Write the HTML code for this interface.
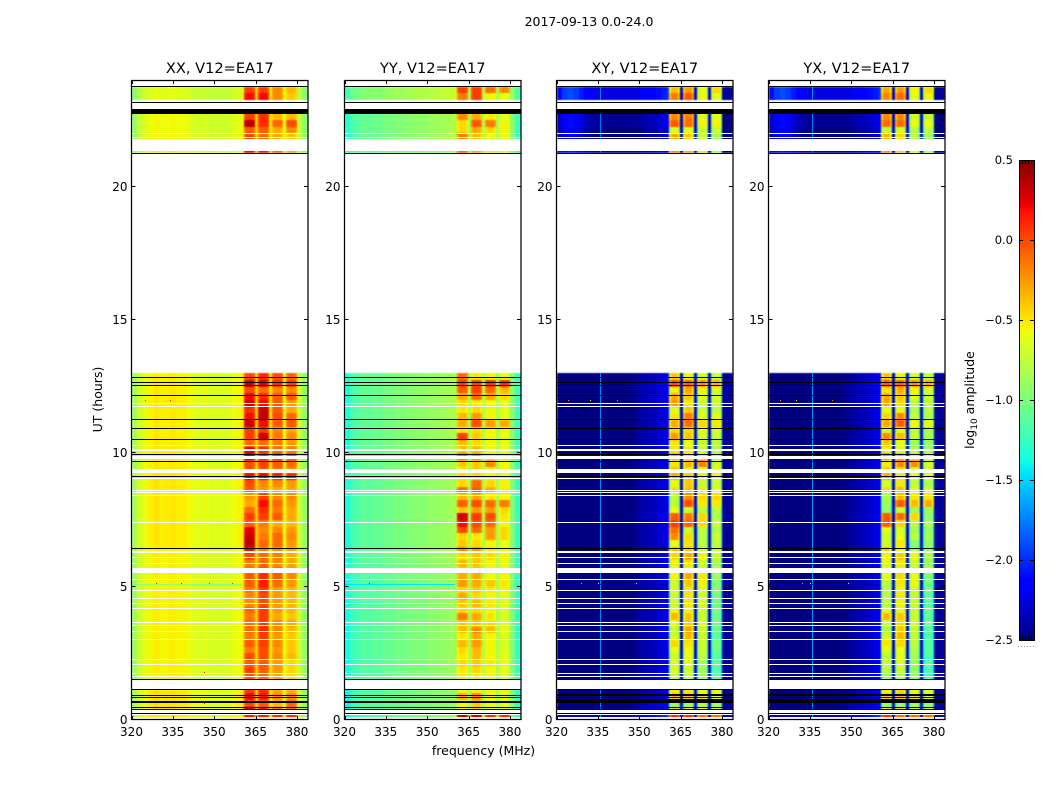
<!DOCTYPE html>
<html>
<head>
<meta charset="utf-8">
<title>2017-09-13 0.0-24.0</title>
<style>
html,body{margin:0;padding:0;background:#fff;width:1050px;height:800px;overflow:hidden}
svg{display:block}
text{font-family:"DejaVu Sans","Liberation Sans",sans-serif;fill:#000}
</style>
</head>
<body>
<svg id="fig" xmlns="http://www.w3.org/2000/svg" width="1050" height="800" viewBox="0 0 1050 800">
  <defs>
    <filter id="soft" filterUnits="userSpaceOnUse" x="100" y="60" width="880" height="680" color-interpolation-filters="sRGB">
      <feGaussianBlur stdDeviation="0.7 0.55"/>
    </filter>
  </defs>
  <text x="589" y="26" font-size="12.5" text-anchor="middle">2017-09-13 0.0-24.0</text>
  <text x="483.5" y="755" font-size="12.5" text-anchor="middle">frequency (MHz)</text>
  <text transform="translate(102,399.5) rotate(-90)" font-size="12.5" text-anchor="middle">UT (hours)</text>
  <text transform="translate(974,400) rotate(-90)" font-size="12.5" text-anchor="middle">log<tspan font-size="9" dy="3">10</tspan><tspan dy="-3"> amplitude</tspan></text>
  <g id="panels"></g>
  <g id="cbar"></g>
</svg>
<script>
const panelTitles = ["XX, V12=EA17", "YY, V12=EA17", "XY, V12=EA17", "YX, V12=EA17"];
const panelKeys = ["xx", "yy", "xy", "yx"];
const xTicks = [320, 335, 350, 365, 380];
const yTicks = [0, 5, 10, 15, 20];
const cbarTicks = [0.5, 0, -0.5, -1, -1.5, -2, -2.5];

// start hour of each 0.25 h time row, top to bottom
const rowHours = [23.5,23.25,22.5,22.25,22,21.75,21.25,
 12.75,12.5,12.25,12,11.75,11.5,11.25,11,10.75,10.5,10.25,10,9.75,9.5,9.25,9,8.75,8.5,8.25,8,7.75,7.5,7.25,7,6.75,6.5,6.25,6,5.75,5.5,5.25,5,4.75,4.5,4.25,4,3.75,3.5,3.25,3,2.75,2.5,2.25,2,1.75,1.5,
 1,0.75,0.5,0.25,0];

// low-frequency channel edges (MHz) and per-polarisation log10 amplitude spectra
const lowEdges = [320,322,324,326,328,330,332,334,336,338,340,342,344,346,348,350,352,354,356,358,360,360.8];
const lowXX = [-.88,-.7,-.62,-.56,-.52,-.56,-.55,-.53,-.56,-.55,-.6,-.64,-.66,-.64,-.68,-.66,-.68,-.66,-.62,-.58,-.53];
const lowYY = [-1.35,-1.2,-1.15,-1.1,-1.12,-1.08,-1.1,-1.04,-1.05,-1.0,-1.02,-.98,-.97,-.95,-.96,-.92,-.92,-.9,-.88,-.85,-.83];
const lowXY = [-2.6,-2.6,-2.6,-2.6,-2.6,-2.6,-2.6,-2.6,-2.6,-2.6,-2.6,-2.6,-2.6,-2.55,-2.5,-2.45,-2.42,-2.4,-2.35,-2.3,-2.2];
const lowYX = [-2.6,-2.6,-2.6,-2.6,-2.6,-2.6,-2.6,-2.6,-2.6,-2.6,-2.6,-2.6,-2.6,-2.55,-2.5,-2.45,-2.42,-2.4,-2.35,-2.3,-2.2];
// the cross hands have a different low-band shape after 21 h
const upperXY = [-2.15,-2.0,-1.95,-2.0,-2.1,-2.2,-2.25,-2.3,-2.3,-2.3,-2.3,-2.3,-2.3,-2.3,-2.3,-2.25,-2.2,-2.2,-2.15,-2.1,-2.0];
const upperYX = [-2.15,-2.0,-1.95,-2.0,-2.1,-2.2,-2.25,-2.3,-2.3,-2.3,-2.3,-2.3,-2.3,-2.3,-2.3,-2.25,-2.2,-2.2,-2.15,-2.1,-2.0];

const rightEdges = [380,382,384];
const rightXX = [-.72,-.92];
const rightYY = [-.98,-1.25];
const rightXY = [-2.45,-2.45];
const rightYX = [-2.45,-2.45];

// sub-band edges (MHz)
const bandStarts = [360.8,365.8,371,376];
const bandEnds = [364.8,370,375,380];
const sepStarts = [364.8,370,375];
const sepEnds = [365.8,371,376];
const sepXX = [-.42,-.5,-.6];
const sepYY = [-.85,-.8,-.85];
const sepXY = [-2.3,-2.25,-2.3];
const sepYX = [-2.3,-2.25,-2.3];
const edgeXX = -.06;
const edgeYY = -.08;
const edgeXY = -.22;
const edgeYX = -.22;

// per-row offset of the low band
const offXX = [-.08,-.08,-.03,-.03,-.03,-.03,0,
 0,.02,.02,.02,.02,.02,.02,.02,.02,.02,.02,.02,.02,.02,.03,.03,.03,.03,.03,.03,.03,.03,.03,.03,.03,.03,0,0,0,0,0,0,0,0,0,0,0,0,0,0,0,0,0,0,0,0,
 .03,.05,.05,.05,.03];
const offYY = [.14,.14,.03,.03,.03,.03,0,
 .02,.02,.02,.02,.02,.02,.02,.02,.02,.02,.02,.02,.02,.02,.02,0,0,0,0,0,0,0,0,0,0,0,0,0,-.02,-.02,-.03,-.03,-.03,-.03,-.03,-.03,-.03,-.03,-.03,-.03,-.03,-.03,-.03,-.03,-.03,-.03,
 -.05,-.05,-.05,-.05,-.05];
const offXY = [.05,.05,-.15,-.15,-.2,-.2,-.1,
 .05,.12,.05,.08,.08,.05,.05,.05,.05,.05,.08,.05,.05,.05,.08,.08,.05,.05,.05,.05,.05,.08,.05,.05,.05,.05,.08,.05,.05,.05,.05,.05,.05,.05,.05,.05,.05,.05,.05,.05,.05,.05,.05,.05,.08,.1,
 .05,.05,.1,.15,.3];
const offYX = [.05,.05,-.15,-.15,-.2,-.2,-.1,
 .05,.12,.05,.08,.08,.05,.05,.05,.05,.05,.08,.05,.05,.05,.08,.08,.05,.05,.05,.05,.05,.08,.05,.05,.05,.05,.08,.05,.05,.05,.05,.05,.05,.05,.05,.05,.05,.05,.05,.05,.05,.05,.05,.05,.08,.1,
 .05,.05,.1,.15,.3];

// per-row log10 amplitude of the four sub-bands
const highXX = [[.05,.05,-.2,-.35],[.2,.2,-.2,-.4],[.05,.1,-.35,-.35],[.35,.1,-.1,0],[-.05,-.05,-.3,-.2],[0,-.1,-.3,-.4],[.2,.15,-.1,-.3],
[0,.1,0,-.1],[.3,.25,.1,.05],[0,-.1,-.2,-.2],[.2,.1,-.05,-.05],[.3,.2,-.05,-.25],[.1,.3,-.05,-.3],[.2,.35,0,-.1],[.3,.2,-.05,-.05],[.05,.05,-.2,-.3],[.05,.3,-.15,-.2],[-.1,-.1,-.15,-.25],[.25,.1,-.1,-.15],[.3,.05,.05,-.05],[0,.05,-.05,-.1],[-.05,-.05,-.1,-.2],[.2,.2,.15,.1],[0,-.2,-.2,-.25],[-.05,-.25,-.3,-.3],[-.25,.05,-.2,-.2],[-.3,.2,-.1,-.25],[-.1,.1,-.15,-.3],[.05,.05,-.05,-.3],[-.05,-.15,-.3,-.35],[.25,-.2,-.2,-.25],[.3,-.15,-.1,-.2],[.35,-.1,-.1,-.25],[.2,-.15,-.2,-.3],[0,-.1,-.15,-.3],[-.15,-.1,-.2,-.3],[-.1,0,-.1,-.25],[-.05,.1,-.05,-.2],[-.05,.15,-.1,-.25],[-.15,.05,-.25,-.35],[-.2,0,-.25,-.35],[-.2,0,-.25,-.35],[-.1,.05,-.25,-.35],[-.15,.05,-.3,-.4],[-.1,.05,-.2,-.3],[-.1,.1,-.2,-.35],[-.15,.05,-.25,-.4],[-.05,.05,-.2,-.4],[-.15,0,-.25,-.4],[0,0,-.2,-.35],[-.05,-.05,-.25,-.45],[.05,-.05,-.25,-.45],[-.05,-.1,-.3,-.45],
[.05,.1,-.3,-.35],[.2,.15,-.2,-.2],[0,-.05,-.35,-.1],[.3,.2,-.1,-.1],[.15,.15,.1,.1]];

const highYY = [[.05,.05,-.1,-.2],[-.15,.05,-.55,-.6],[-.2,-.3,-.5,-.6],[-.45,-.05,-.15,-.55],[-.45,-.3,-.45,-.55],[-.15,-.35,-.6,-.6],[-.1,-.3,-.5,-.6],
[-.1,-.5,-.55,-.6],[.05,.05,.1,.1],[-.05,.05,-.1,-.35],[-.3,-.1,-.3,-.45],[-.45,-.5,-.55,-.6],[-.5,-.45,-.55,-.6],[-.35,-.25,-.55,-.6],[-.3,0,-.25,-.3],[-.5,-.45,-.55,-.55],[.05,-.4,-.55,-.6],[-.35,-.45,-.55,-.6],[-.4,-.35,-.6,-.6],[-.1,-.2,-.5,-.5],[-.4,-.4,-.2,-.55],[-.5,-.4,-.5,-.55],[-.45,-.45,-.55,-.6],[-.45,-.1,-.45,-.55],[-.1,-.05,-.3,-.5],[-.35,-.3,-.5,-.55],[-.05,0,-.1,-.15],[-.4,-.25,-.25,-.45],[.3,.05,0,-.5],[.2,0,-.1,-.55],[0,-.1,-.25,-.45],[-.45,-.5,-.25,-.45],[-.4,-.45,-.55,-.6],[-.2,-.25,-.5,-.55],[-.45,-.4,-.45,-.55],[-.35,-.4,-.55,-.6],[-.4,-.4,-.55,-.6],[-.3,-.3,-.55,-.55],[-.25,-.3,-.4,-.5],[-.45,-.4,-.5,-.55],[-.3,-.45,-.55,-.6],[-.4,-.35,-.5,-.6],[-.45,-.45,-.55,-.65],[-.15,-.3,-.5,-.65],[-.4,-.4,-.45,-.65],[-.35,-.2,-.35,-.6],[-.5,-.3,-.55,-.65],[-.35,-.25,-.55,-.65],[-.45,-.35,-.55,-.65],[-.5,-.35,-.55,-.6],[-.45,-.4,-.5,-.6],[-.5,-.45,-.55,-.6],[-.5,-.5,-.55,-.6],
[-.6,-.55,-.55,-.55],[-.3,-.2,-.55,-.6],[-.55,-.4,-.55,-.6],[-.55,-.45,-.6,-.6],[.3,.3,.1,.1]];

const highXY = [[-.35,-.25,-.6,-.45],[-.15,-.05,-.55,-.6],[-.2,-.15,-.6,-.6],[-.05,-.1,-.55,-.55],[-.65,-.6,-.7,-.7],[-.3,-.4,-.7,-.8],[-.2,-.3,-.5,-.75],
[-.4,-.55,-.65,-.7],[0,-.05,-.2,-.3],[-.55,-.3,-.55,-.65],[-.3,-.4,-.6,-.65],[-.25,-.5,-.7,-.7],[-.6,-.4,-.7,-.75],[-.5,-.15,-.6,-.6],[-.3,-.1,-.45,-.5],[-.45,-.45,-.6,-.65],[-.25,-.4,-.65,-.7],[-.5,-.6,-.7,-.75],[-.5,-.5,-.7,-.8],[-.3,-.5,-.6,-.7],[-.5,-.35,-.15,-.65],[-.35,-.5,-.65,-.6],[-.3,-.4,-.55,-.55],[-.6,-.4,-.7,-.7],[-.45,-.35,-.5,-.6],[-.75,-.2,-.45,-.45],[-.75,0,-.5,-.5],[-.6,-.7,-.75,-.75],[-.05,-.15,-.45,-.8],[.05,-.05,-.45,-.7],[-.1,-.7,-.75,-.8],[-.2,-.45,-.75,-.7],[-.6,-.5,-.75,-.75],[-.35,-.4,-.7,-.7],[-.45,-.3,-.55,-.7],[-.55,-.5,-.7,-.8],[-.6,-.5,-.7,-.8],[-.55,-.3,-.5,-.85],[-.7,-.4,-.55,-.95],[-.65,-.5,-.65,-.95],[-.7,-.5,-.65,-1],[-.7,-.5,-.65,-1],[-.55,-.55,-.7,-1],[-.35,-.4,-.7,-1.05],[-.6,-.4,-.65,-1],[-.75,-.3,-.7,-1.05],[-.65,-.35,-.7,-1.1],[-.45,-.5,-.7,-1],[-.6,-.55,-.7,-1.05],[-.7,-.6,-.75,-1.1],[-.65,-.6,-.85,-1.1],[-.65,-.7,-.85,-1.15],[-.75,-.7,-.85,-1.1],
[-.5,-.5,-.6,-.6],[-.35,-.4,-.5,-.6],[-.9,-.85,-.8,-.85],[-.45,-.5,-.6,-.6],[.1,.1,-.1,-.1]];

const highYX = [[-.3,-.25,-.55,-.45],[-.2,-.1,-.6,-.55],[-.2,-.2,-.65,-.7],[-.1,-.1,-.6,-.6],[-.7,-.65,-.8,-.75],[-.35,-.45,-.75,-.85],[-.25,-.4,-.6,-.8],
[-.4,-.55,-.65,-.7],[-.05,-.05,-.2,-.3],[-.5,-.3,-.55,-.65],[-.3,-.4,-.6,-.7],[-.3,-.45,-.75,-.75],[-.6,-.55,-.8,-.75],[-.45,-.2,-.7,-.8],[-.3,-.05,-.55,-.6],[-.65,-.6,-.75,-.85],[-.2,-.35,-.7,-.8],[-.4,-.6,-.85,-.9],[-.55,-.6,-.8,-.85],[-.2,-.3,-.65,-.7],[-.5,-.2,-.2,-.65],[-.4,-.45,-.7,-.7],[-.3,-.5,-.6,-.6],[-.65,-.5,-.75,-.8],[-.45,-.35,-.6,-.65],[-.8,-.35,-.5,-.5],[-.85,-.05,-.35,-.3],[-.9,-.7,-.85,-.85],[-.05,-.1,-.45,-.9],[-.05,-.45,-.75,-.8],[-.6,-.65,-.85,-.9],[-.7,-.6,-.75,-.85],[-.65,-.5,-.95,-.9],[-.4,-.6,-.85,-.9],[-.55,-.4,-.6,-.8],[-.6,-.5,-.7,-.85],[-.6,-.5,-.7,-.85],[-.6,-.45,-.6,-.95],[-.75,-.5,-.6,-1],[-.8,-.55,-.7,-1.05],[-.75,-.5,-.7,-1.1],[-.75,-.55,-.7,-1.1],[-.6,-.55,-.75,-1.05],[-.35,-.4,-.7,-1.1],[-.7,-.45,-.7,-1.05],[-.8,-.4,-.75,-1.1],[-.65,-.35,-.75,-1.15],[-.5,-.45,-.75,-1.1],[-.6,-.6,-.8,-1.1],[-.75,-.6,-.85,-1.15],[-.7,-.65,-.85,-1.15],[-.75,-.7,-.9,-1.15],[-.9,-.8,-.9,-1.2],
[-.55,-.45,-.6,-.65],[-.4,-.35,-.5,-.6],[-.9,-.9,-.85,-.9],[-.5,-.45,-.65,-.65],[.1,-.1,-.1,-.1]];

// narrow interference line seen in the cross hands, and the 5.1 h disturbed row
const rfiFreq = 335.9;
const rfiLevels = [-9, -9, -1.75, -1.7];
const noisyHour = 5.08;
const noisyLevels = [-.95, -1.45, -2.4, -2.4];

// isolated bright samples
const spotPanels = [0,0,0,0,0,0,0,0,1,2,2,2,2,2,2,3,3,3,3,3,3];
const spotHours = [5.09,5.09,5.09,5.09,11.95,11.95,1.77,.62,5.09,11.95,11.95,11.95,5.09,5.09,5.09,11.95,11.95,11.95,5.09,5.09,5.09];
const spotFreqs = [329,338,348,356.6,325,334,346.4,346.4,329,324,332,342,329,335,349,324,330,343,332,335,349];
const spotValues = [.2,.2,.1,.1,.1,.2,.3,.3,.3,-.3,-.6,-.2,-.2,-.6,-.7,-.3,-.6,-.2,-.2,-.6,-.7];

// flagged (white) time ranges in hours
const gapStarts = [24,23.19,22,21.86,21.78,21.26,12.2,11.87,11.78,10.3,10.15,9.9,9.41,9.08,8.63,8.55,8.45,7.43,6.34,6.1,5.89,5.7,5.29,4.89,4.57,4.39,4.2,3.68,3.57,3.34,3.04,2.29,2.1,1.77,1.64,1.53,.41,.25,.13];
const gapEnds = [23.79,22.9,21.97,21.82,21.35,13.05,12.13,11.83,11.74,10.27,10.07,9.8,9.26,9.05,8.6,8.52,8.42,7.4,6.26,6.07,5.86,5.51,5.26,4.86,4.54,4.36,4.17,3.65,3.54,3.31,3.01,2.26,2.07,1.74,1.61,1.17,.25,.19,0];

// zero-amplitude (black) time ranges in hours
const darkStarts = [23.79,23.19,22.9,21.26,12.85,12.69,12.56,12.2,11.27,10.94,10.52,9.97,9.71,9.14,6.45,1.53,1.17,.94,.85,.72,.48,.41,.25];
const darkEnds = [23.76,23.16,22.74,21.23,12.82,12.62,12.53,12.17,11.24,10.91,10.49,9.94,9.68,9.11,6.42,1.5,1.14,.91,.82,.65,.45,.38,.22];
// extra black ranges present in the cross hands only
const crossDarkStarts = [.98,.8];
const crossDarkEnds = [.92,.68];

const panelLefts = [131.5, 344.5, 556.5, 768.5];
const panelWidth = 176.5;
const SVGNS = "http://www.w3.org/2000/svg";

function interp(pts, t) {
  for (let i = 1; i < pts.length; i++) {
    if (t <= pts[i][0]) {
      const a = pts[i - 1], b = pts[i];
      return a[1] + (b[1] - a[1]) * (t - a[0]) / (b[0] - a[0]);
    }
  }
  return pts[pts.length - 1][1];
}
const jetR = [[0,0],[.35,0],[.66,1],[.89,1],[1,.5]];
const jetG = [[0,0],[.125,0],[.375,1],[.64,1],[.91,0],[1,0]];
const jetB = [[0,.5],[.11,1],[.34,1],[.65,0],[1,0]];
function colorOf(v) {
  const t = Math.max(0, Math.min(1, (v + 2.5) / 3));
  const c = [jetR, jetG, jetB].map(p => Math.round(255 * interp(p, t)));
  return "rgb(" + c[0] + "," + c[1] + "," + c[2] + ")";
}
function yScale(h) { return 720 - 26.67 * h; }
function xScale(p, f) { return panelLefts[p] + (f - 320) * (panelWidth / 64); }
function shape(tag, parent, attrs) {
  const el = document.createElementNS(SVGNS, tag);
  for (const k in attrs) el.setAttribute(k, attrs[k]);
  parent.appendChild(el);
  return el;
}
function band(p, parent, f0, f1, h0, h1, fill) {
  const x0 = Math.round(xScale(p, f0)), x1 = Math.max(x0 + 1, Math.round(xScale(p, f1)));
  const y0 = Math.round(yScale(h0)), y1 = Math.max(y0 + 1, Math.round(yScale(h1)));
  return shape("rect", parent, { x: x0, y: y0, width: x1 - x0, height: y1 - y0, fill: fill, "shape-rendering": "crispEdges" });
}

const lows = [lowXX, lowYY, lowXY, lowYX];
const uppers = [lowXX, lowYY, upperXY, upperYX];
const rights = [rightXX, rightYY, rightXY, rightYX];
const seps = [sepXX, sepYY, sepXY, sepYX];
const edges = [edgeXX, edgeYY, edgeXY, edgeYX];
const offs = [offXX, offYY, offXY, offYX];
const highs = [highXX, highYY, highXY, highYX];
const panelsG = document.getElementById("panels");

panelTitles.forEach((title, p) => {
  const g = shape("g", panelsG, {});
  
  
  const L = panelLefts[p], R = L + panelWidth;
  const heat = shape("g", g, { filter: "url(#soft)" });
  
  

  rowHours.forEach((h, r) => {
    const spectrum = h > 21 ? uppers[p] : lows[p];
    spectrum.forEach((v, c) => {
      const cell = band(p, heat, lowEdges[c], lowEdges[c + 1], h + .25, h, colorOf(v + offs[p][r]));
      
      
    });
    rights[p].forEach((v, c) => {
      const cell = band(p, heat, rightEdges[c], rightEdges[c + 1], h + .25, h, colorOf(v + offs[p][r] * .5));
      
      
    });
    sepStarts.forEach((f, c) => {
      const cell = band(p, heat, f, sepEnds[c], h + .25, h, colorOf(seps[p][c]));
      
      
    });
    bandStarts.forEach((f, c) => {
      const v = highs[p][r][c], e = bandEnds[c];
      const left = band(p, heat, f, f + .8, h + .25, h, colorOf(v + edges[p]));
      
      
      const mid = band(p, heat, f + .8, e - .8, h + .25, h, colorOf(v));
      
      
      const right = band(p, heat, e - .8, e, h + .25, h, colorOf(v + edges[p]));
      
      
    });
  });

  rowHours.forEach((h, r) => {
    if (rfiLevels[p] > -3) {
      const rfi = band(p, g, rfiFreq, rfiFreq + .3, h + .25, h, colorOf(rfiLevels[p] + offs[p][r] * .3));
      
      
    }
  });

  const noisy = band(p, g, 320, 360, noisyHour + .03, noisyHour, colorOf(noisyLevels[p]));
  
  

  spotPanels.forEach((sp, i) => {
    if (sp !== p) return;
    const spot = band(p, g, spotFreqs[i], spotFreqs[i] + .35, spotHours[i] + .03, spotHours[i], colorOf(spotValues[i]));
    
    
  });

  gapStarts.forEach((h0, i) => {
    const gap = band(p, g, 320, 384, h0, gapEnds[i], "#fff");
    
    
  });

  darkStarts.forEach((h0, i) => {
    const dark = band(p, g, 320, 384, h0, darkEnds[i], "#000");
    
    
  });
  if (p >= 2) {
    crossDarkStarts.forEach((h0, i) => {
      const dark = band(p, g, 320, 384, h0, crossDarkEnds[i], "#000");
      
      
    });
  }

  // white mask outside the axes so the softened heatmap does not bleed past the frame
  const maskL = shape("rect", g, { x: L - 5, y: 76, width: 5, height: 648, fill: "#fff" });
  
  
  const maskR = shape("rect", g, { x: R, y: 76, width: 5, height: 648, fill: "#fff" });
  
  
  const maskB = shape("rect", g, { x: L - 5, y: 720, width: panelWidth + 10, height: 4, fill: "#fff" });
  
  

  const frame = shape("rect", g, { x: L, y: 80.5, width: panelWidth, height: 639, fill: "none", stroke: "#000", "stroke-width": 1.25 });
  
  

  xTicks.forEach(f => {
    const x = Math.round(xScale(p, f)) + .5;
    const tb = shape("line", g, { x1: x, x2: x, y1: 720, y2: 716, stroke: "#000" });
    
    
    const tt = shape("line", g, { x1: x, x2: x, y1: 80, y2: 84, stroke: "#000" });
    
    
    const lab = shape("text", g, { x: xScale(p, f), y: 736, "font-size": 12, "text-anchor": "middle" });
    lab.textContent = String(f);
    
    
  });
  yTicks.forEach(h => {
    const y = Math.round(yScale(h)) - .5;
    const tl = shape("line", g, { x1: L, x2: L + 4, y1: y, y2: y, stroke: "#000" });
    
    
    const tr = shape("line", g, { x1: R, x2: R - 4, y1: y, y2: y, stroke: "#000" });
    
    
    const lab = shape("text", g, { x: L - 4, y: y + 4.5, "font-size": 12, "text-anchor": "end" });
    lab.textContent = String(h);
    
    
  });
  const t = shape("text", g, { x: L + panelWidth / 2, y: 73, "font-size": 14.6, "text-anchor": "middle" });
  t.textContent = title;
  
  
});

// colorbar
const cb = document.getElementById("cbar");
const cbTop = 160, cbBot = 640, cbL = 1019, cbW = 15;
function cbY(v) { return cbBot - (v + 2.5) / 3 * (cbBot - cbTop); }
for (let i = 0; i < 240; i++) {
  const s = shape("rect", cb, { x: cbL, y: cbTop + i * 2, width: cbW, height: 2, fill: colorOf(.5 - (i + .5) * 3 / 240), "shape-rendering": "crispEdges" });
  
  
}
const cbFrame = shape("rect", cb, { x: cbL + .5, y: cbTop + .5, width: cbW, height: cbBot - cbTop, fill: "none", stroke: "#000" });


cbarTicks.forEach(v => {
  const y = Math.round(cbY(v)) + .5;
  const a = shape("line", cb, { x1: cbL, x2: cbL + 4, y1: y, y2: y, stroke: "#000" });
  
  
  const b = shape("line", cb, { x1: cbL + cbW, x2: cbL + cbW - 4, y1: y, y2: y, stroke: "#000" });
  
  
  const lab = shape("text", cb, { x: 1013, y: Math.round(cbY(v)) + 4, "font-size": 11.5, "text-anchor": "end" });
  lab.textContent = (v < 0 ? "\u2212" : "") + Math.abs(v).toFixed(1);
  
  
});
for (let i = 1; i < 5; i++) {
  const x = cbL + i * 3 + .5;
  const a = shape("line", cb, { x1: x, x2: x, y1: cbTop, y2: cbTop + 4, stroke: "#000" });
  
  
  const b = shape("line", cb, { x1: x, x2: x, y1: cbBot, y2: cbBot - 4, stroke: "#000" });
  
  
}
for (let i = 0; i < 6; i++) {
  const d = shape("rect", cb, { x: cbL - 1 + i * 3, y: 646, width: 1, height: 1, fill: "#999", "shape-rendering": "crispEdges" });
  
  
}
</script>
</body>
</html>
